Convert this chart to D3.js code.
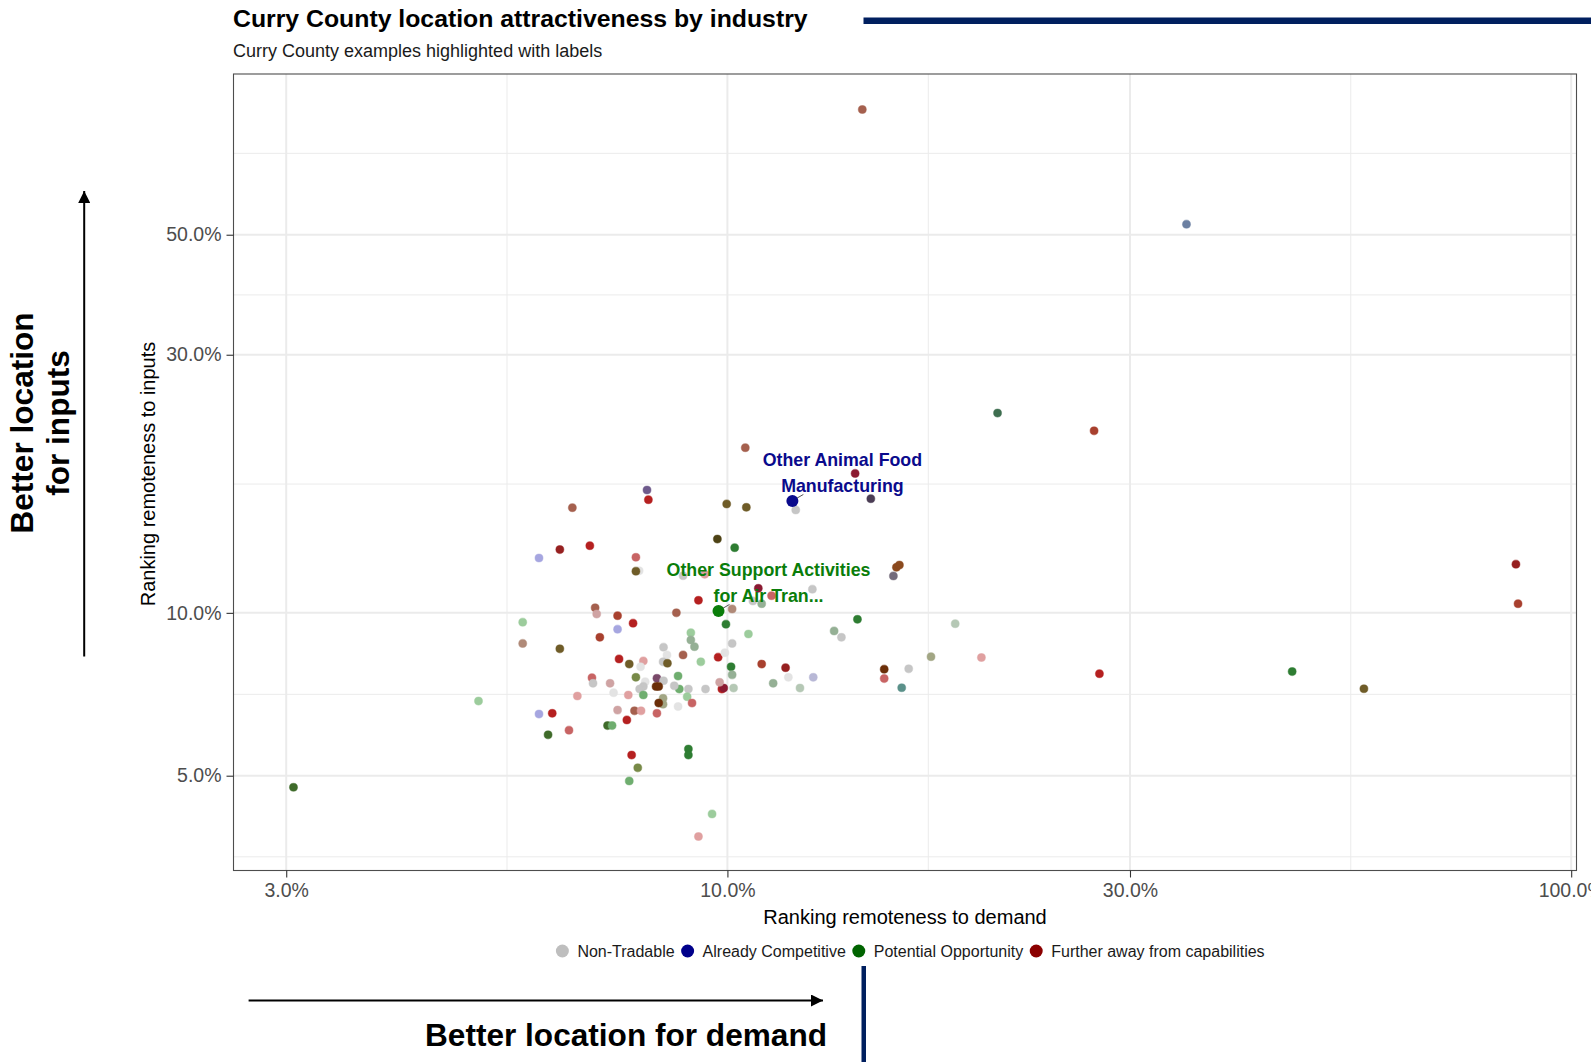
<!DOCTYPE html>
<html>
<head>
  <title>Curry County location attractiveness</title>
  <script src="https://cdn.jsdelivr.net/npm/d3@7/dist/d3.min.js"></script>
  <style>
    body { margin: 0; background: #fff; }
    text { font-family: "Liberation Sans", Arial, sans-serif; }
  </style>
</head>
<body>
  <svg width="1591" height="1062"></svg>
  <script>
    // ---- data (values in %) ----
    const xBreaks = [3, 10, 30, 100];
    const xMinor = [5.48, 17.3, 54.8];
    const yBreaks = [5, 10, 30, 50];
    const yMinor = [3.54, 7.07, 17.3, 38.7, 70.7];
    const xLimits = [2.598, 101.46];
    const yLimits = [3.34, 99.1];

    const categories = ['Non-Tradable', 'Already Competitive', 'Potential Opportunity', 'Further away from capabilities'];

    // [demand remoteness, inputs remoteness, shade key]
    const industries = [
      [14.45, 85.2, 'brown'], [35.0, 52.3, 'slate'], [20.9, 23.4, 'dteal'], [27.2, 21.7, 'rust'],
      [10.5, 20.2, 'brown'], [14.17, 18.1, 'crimson'], [12.05, 15.5, 'grey'], [14.79, 16.26, 'plum'],
      [8.03, 16.87, 'purple'], [8.06, 16.19, 'red'], [6.55, 15.65, 'brown'], [9.98, 15.9, 'olive'],
      [10.53, 15.67, 'olive'], [9.73, 13.69, 'dolive'], [10.2, 13.2, 'green'], [5.98, 12.63, 'lav'],
      [6.33, 13.09, 'dred'], [6.87, 13.31, 'red'], [7.79, 12.67, 'rose'], [7.86, 11.96, 'lgrey'],
      [7.79, 11.94, 'olive'], [10.13, 10.17, 'tan'], [8.70, 10.0, 'brown'], [9.24, 10.55, 'red'],
      [10.88, 11.1, 'crimson'], [11.28, 10.76, 'rose'], [10.98, 10.4, 'sage'], [10.72, 10.52, 'grey'],
      [12.61, 11.06, 'grey'], [8.86, 11.71, 'grey'], [9.40, 11.78, 'pink'], [9.96, 9.53, 'green'],
      [9.05, 9.19, 'lgreen'], [10.59, 9.14, 'lgreen'], [15.86, 12.14, 'sienna'], [15.99, 12.26, 'sienna'],
      [15.73, 11.70, 'slategrey'], [14.26, 9.73, 'green'], [13.38, 9.26, 'sage'], [13.65, 9.01, 'grey'],
      [18.62, 9.55, 'lsage'], [17.43, 8.30, 'khaki'], [15.34, 7.87, 'dbrown'], [15.34, 7.56, 'rose'],
      [16.40, 7.88, 'grey'], [16.09, 7.27, 'teal'], [12.64, 7.60, 'lav2'], [10.13, 8.78, 'grey'],
      [10.1, 7.95, 'green'], [10.13, 7.68, 'sage'], [10.17, 7.26, 'lsage'], [9.85, 7.23, 'red'],
      [9.9, 7.26, 'crimson'], [9.79, 7.44, 'pinkgrey'], [9.75, 8.28, 'red'], [9.93, 8.44, 'lgrey'],
      [10.98, 8.04, 'rust'], [11.72, 7.92, 'dred'], [11.81, 7.60, 'lgrey'], [11.33, 7.41, 'sage'],
      [12.19, 7.26, 'lsage'], [9.42, 7.23, 'grey'], [8.99, 7.23, 'grey'], [8.77, 7.23, 'mgreen'],
      [8.65, 7.33, 'grey'], [8.96, 7.00, 'lgreen'], [9.08, 6.81, 'rose'], [8.74, 6.71, 'lgrey'],
      [8.74, 7.64, 'mgreen'], [8.86, 8.36, 'brown'], [9.30, 8.12, 'lgreen'], [9.14, 8.66, 'sage'],
      [9.05, 8.91, 'sage'], [8.40, 8.64, 'grey'], [8.48, 8.36, 'lgrey'], [8.39, 8.12, 'grey'],
      [8.49, 8.07, 'olive'], [8.39, 6.95, 'khaki'], [8.39, 6.78, 'khaki'], [8.99, 5.60, 'green'],
      [8.99, 5.46, 'green'], [9.59, 4.25, 'lgreen'], [9.24, 3.86, 'pink'], [5.72, 8.78, 'tan'],
      [6.33, 8.58, 'olive'], [7.44, 8.22, 'red'], [7.65, 8.04, 'olive'], [7.95, 8.15, 'pink'],
      [7.89, 7.95, 'lgrey'], [6.91, 7.59, 'rose'], [6.93, 7.41, 'grey'], [7.26, 7.41, 'pinkgrey'],
      [7.79, 7.60, 'olivegreen'], [7.99, 7.46, 'lgrey'], [7.95, 7.31, 'grey'], [7.87, 7.23, 'grey'],
      [8.25, 7.57, 'purple2'], [8.40, 7.49, 'grey'], [8.23, 7.31, 'dbrown'], [8.29, 7.31, 'dbrown'],
      [7.33, 7.12, 'lgrey'], [7.63, 7.05, 'pink'], [7.95, 7.05, 'mgreen'], [6.64, 7.02, 'pink'],
      [8.29, 6.81, 'dbrown'], [5.98, 6.50, 'lav'], [6.20, 6.52, 'red'], [7.41, 6.61, 'pinkgrey'],
      [7.76, 6.59, 'brown'], [7.90, 6.59, 'pink'], [8.25, 6.52, 'rose'], [7.60, 6.34, 'red'],
      [6.49, 6.07, 'rose'], [6.13, 5.95, 'dgreen'], [7.21, 6.19, 'dgreen'], [7.30, 6.19, 'mgreen'],
      [7.70, 5.46, 'red'], [7.83, 5.17, 'olivegreen'], [7.65, 4.89, 'mgreen'], [5.72, 9.61, 'lgreen'],
      [6.97, 10.22, 'brown'], [7.00, 9.95, 'pinkgrey'], [7.41, 9.88, 'rust'], [7.73, 9.57, 'red'],
      [7.41, 9.33, 'lav'], [7.06, 9.01, 'rust'], [5.07, 6.87, 'lgreen'], [3.06, 4.76, 'dgreen'],
      [46.7, 7.79, 'green'], [56.8, 7.24, 'olive'], [27.6, 7.72, 'red'], [86.0, 12.3, 'dred'],
      [86.5, 10.4, 'rust'], [20.0, 8.27, 'pink']
    ];

    // labelled Curry County examples
    const highlights = [
      { lines: ['Other Animal Food', 'Manufacturing'], demand: 11.94, inputs: 16.1, group: 'Already Competitive' },
      { lines: ['Other Support Activities', 'for Air Tran...'], demand: 9.76, inputs: 10.08, group: 'Potential Opportunity' }
    ];

    // ---- styles ----
    const shade = {
      red: '#b52020', dred: '#962020', crimson: '#8b1a32', rose: '#c86464', pink: '#e0a0a0',
      pinkgrey: '#cfa3a3', brown: '#a5604e', rust: '#a8402e', sienna: '#8b4a1e', dbrown: '#6b2e08',
      tan: '#b08a78', olive: '#6f5c28', dolive: '#4d4215', olivegreen: '#788a48', khaki: '#a2a684',
      green: '#2e7d32', dgreen: '#3f6b2a', mgreen: '#6fae6f', lgreen: '#9ccc9c', sage: '#95b095',
      lsage: '#b5c8b5', dteal: '#3e6e50', teal: '#5b918a', grey: '#c6c6c6', lgrey: '#e3e3e3',
      lav: '#a6a6e0', lav2: '#b8b8d6', purple: '#6e5a8c', purple2: '#7a4a6a', plum: '#4b3d55',
      slategrey: '#736b7b', slate: '#6c80a2'
    };
    const legendColor = d3.scaleOrdinal().domain(categories)
      .range(['#bebebe', '#00008b', '#006400', '#8b0000']);
    const labelColor = { 'Already Competitive': '#0a0a8c', 'Potential Opportunity': '#0a7d0a' };

    const svg = d3.select('svg');
    const panel = { left: 233.5, right: 1576.5, top: 74, bottom: 870.5 };

    const x = d3.scaleLog().domain(xLimits).range([panel.left, panel.right]);
    const y = d3.scaleLog().domain(yLimits).range([panel.bottom, panel.top]);
    const pct = d => d3.format('.1f')(d) + '%';

    // title block
    svg.append('text').attr('x', 233).attr('y', 26.5)
      .attr('font-size', 24.8).attr('font-weight', 'bold').attr('fill', '#000')
      .text('Curry County location attractiveness by industry');
    svg.append('text').attr('x', 233).attr('y', 57)
      .attr('font-size', 18).attr('fill', '#1a1a1a')
      .text('Curry County examples highlighted with labels');
    svg.append('rect').attr('x', 863.5).attr('y', 17.5).attr('width', 1591 - 863.5).attr('height', 6.5)
      .attr('fill', '#001f5f');

    // grid
    const grid = svg.append('g');
    grid.selectAll('.xminor').data(xMinor).join('line')
      .attr('x1', d => x(d)).attr('x2', d => x(d)).attr('y1', panel.top).attr('y2', panel.bottom)
      .attr('stroke', '#ebebeb').attr('stroke-width', 1);
    grid.selectAll('.yminor').data(yMinor).join('line')
      .attr('y1', d => y(d)).attr('y2', d => y(d)).attr('x1', panel.left).attr('x2', panel.right)
      .attr('stroke', '#ebebeb').attr('stroke-width', 1);
    grid.selectAll('.xmajor').data(xBreaks).join('line')
      .attr('x1', d => x(d)).attr('x2', d => x(d)).attr('y1', panel.top).attr('y2', panel.bottom)
      .attr('stroke', '#ebebeb').attr('stroke-width', 2);
    grid.selectAll('.ymajor').data(yBreaks).join('line')
      .attr('y1', d => y(d)).attr('y2', d => y(d)).attr('x1', panel.left).attr('x2', panel.right)
      .attr('stroke', '#ebebeb').attr('stroke-width', 2);

    // points
    svg.append('g').selectAll('circle').data(industries).join('circle')
      .attr('cx', d => x(d[0])).attr('cy', d => y(d[1])).attr('r', 4)
      .attr('fill', d => shade[d[2]])
      .attr('stroke', d => shade[d[2]]).attr('stroke-opacity', 0.45).attr('stroke-width', 1.2);

    // highlighted examples
    const hl = svg.append('g').selectAll('g').data(highlights).join('g')
      .attr('transform', d => `translate(${x(d.demand)},${y(d.inputs)})`);
    hl.append('line').attr('x1', 4).attr('y1', -2.5).attr('x2', 11).attr('y2', -6.5)
      .attr('stroke', '#555').attr('stroke-width', 1);
    hl.append('circle').attr('r', 6).attr('fill', d => labelColor[d.group]);
    hl.each(function (d) {
      d3.select(this).selectAll('text').data(d.lines).join('text')
        .attr('x', 50).attr('y', (t, i) => -41.5 + i * 26.4).attr('dy', '0.35em')
        .attr('text-anchor', 'middle').attr('font-size', 17.8).attr('font-weight', 'bold')
        .attr('fill', labelColor[d.group]).text(t => t);
    });

    // panel border
    svg.append('rect').attr('x', panel.left).attr('y', panel.top)
      .attr('width', panel.right - panel.left).attr('height', panel.bottom - panel.top)
      .attr('fill', 'none').attr('stroke', '#4d4d4d').attr('stroke-width', 1.1);

    // axes
    const xAxis = svg.append('g').attr('transform', `translate(0,${panel.bottom})`)
      .call(d3.axisBottom(x).tickValues(xBreaks).tickFormat(pct).tickSize(7).tickPadding(6));
    const yAxis = svg.append('g').attr('transform', `translate(${panel.left},0)`)
      .call(d3.axisLeft(y).tickValues(yBreaks).tickFormat(pct).tickSize(7).tickPadding(5));
    [xAxis, yAxis].forEach(a => {
      a.select('.domain').remove();
      a.selectAll('.tick line').attr('stroke', '#333').attr('stroke-width', 1.1);
      a.selectAll('.tick text').attr('fill', '#4d4d4d').attr('font-size', 19.5)
        .attr('font-family', '"Liberation Sans", Arial, sans-serif');
    });

    svg.append('text').attr('x', 905).attr('y', 923.5).attr('text-anchor', 'middle')
      .attr('font-size', 20).attr('fill', '#000').text('Ranking remoteness to demand');
    svg.append('text').attr('transform', 'translate(155,474) rotate(-90)').attr('text-anchor', 'middle')
      .attr('font-size', 20).attr('fill', '#000').text('Ranking remoteness to inputs');

    // legend
    const legend = svg.append('g').attr('transform', 'translate(0,951)');
    const items = legend.selectAll('g').data(categories).join('g');
    items.append('circle').attr('r', 6.5).attr('fill', d => legendColor(d));
    items.append('text').attr('x', 15).attr('dy', '0.35em').attr('font-size', 16)
      .attr('fill', '#1a1a1a').text(d => d);
    let cursor = 0;
    const offsets = [];
    items.each(function () {
      offsets.push(cursor);
      cursor += 15 + this.querySelector('text').getComputedTextLength() + 13;
    });
    const legendStart = 910 - (cursor - 13 + 7) / 2 + 7;
    items.attr('transform', (d, i) => `translate(${legendStart + offsets[i]},0)`);

    // direction arrows
    const defs = svg.append('defs');
    defs.append('marker').attr('id', 'head').attr('viewBox', '0 0 10 10')
      .attr('refX', 10).attr('refY', 5).attr('markerWidth', 7.5).attr('markerHeight', 6)
      .attr('markerUnits', 'strokeWidth').attr('orient', 'auto')
      .append('path').attr('d', 'M0,0L10,5L0,10Z').attr('fill', '#000');

    svg.append('line').attr('x1', 248.6).attr('y1', 1000.5).attr('x2', 823).attr('y2', 1000.5)
      .attr('stroke', '#000').attr('stroke-width', 2).attr('marker-end', 'url(#head)');
    svg.append('text').attr('x', 827).attr('y', 1046).attr('text-anchor', 'end')
      .attr('font-size', 31.6).attr('font-weight', 'bold').attr('fill', '#000')
      .text('Better location for demand');

    svg.append('line').attr('x1', 84.2).attr('y1', 656.5).attr('x2', 84.2).attr('y2', 191)
      .attr('stroke', '#000').attr('stroke-width', 2).attr('marker-end', 'url(#head)');
    svg.append('text').attr('transform', 'translate(33,423) rotate(-90)').attr('text-anchor', 'middle')
      .attr('font-size', 31.6).attr('font-weight', 'bold').attr('fill', '#000').text('Better location');
    svg.append('text').attr('transform', 'translate(68.5,423) rotate(-90)').attr('text-anchor', 'middle')
      .attr('font-size', 31.6).attr('font-weight', 'bold').attr('fill', '#000').text('for inputs');

    svg.append('rect').attr('x', 861.5).attr('y', 966).attr('width', 4.5).attr('height', 1062 - 966)
      .attr('fill', '#001f5f');
  </script>
</body>
</html>
